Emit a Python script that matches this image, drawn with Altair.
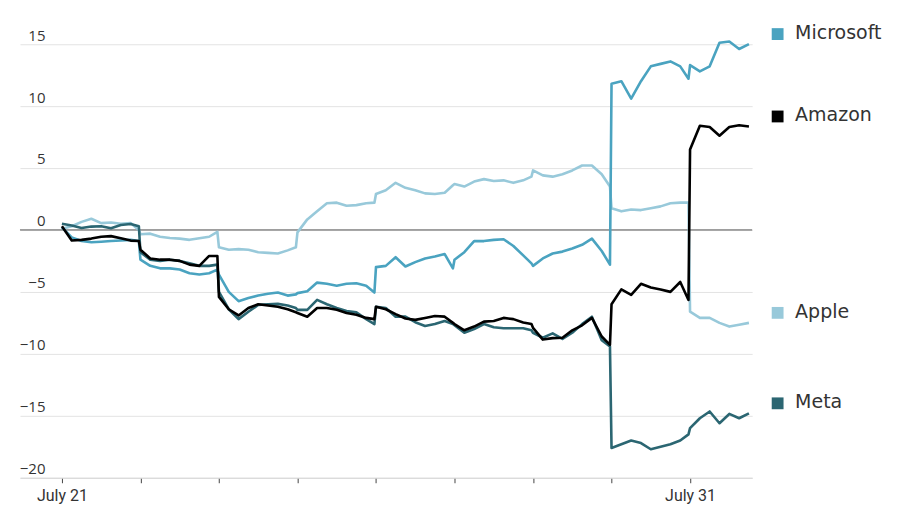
import altair as alt
import pandas as pd

companies = ["Microsoft", "Amazon", "Apple", "Meta"]
colors = ["#4aa3c0", "#000000", "#98c9da", "#2b6672"]
draw_order = ["Apple", "Microsoft", "Meta", "Amazon"]

# intraday sampling positions (trading-day units, 0 = July 21 open)
day_offsets = [0, 0.125, 0.25, 0.375, 0.5, 0.625, 0.75, 0.875, 0.98]
times = [d + o for d in range(8) for o in day_offsets] + [8 + o for o in day_offsets[:7]]

microsoft = [
    0.2, -0.6, -0.9, -1.0, -0.95, -0.9, -0.85, -0.8, -0.9,
    -2.4, -2.9, -3.1, -3.1, -3.2, -3.5, -3.6, -3.5, -3.2,
    -3.6, -5.0, -5.75, -5.5, -5.3, -5.15, -5.05, -5.3, -5.2,
    -5.1, -4.95, -4.25, -4.35, -4.5, -4.35, -4.3, -4.5, -5.05,
    -3.0, -2.9, -2.2, -2.95, -2.6, -2.3, -2.15, -1.95, -3.1,
    -2.4, -1.8, -0.9, -0.9, -0.8, -0.75, -1.3, -2.05, -2.7,
    -2.9, -2.3, -1.9, -1.75, -1.5, -1.2, -0.7, -1.7, -2.8,
    11.8, 12.0, 10.6, 12.0, 13.2, 13.4, 13.6, 13.2, 12.2,
    13.3, 12.8, 13.2, 15.1, 15.2, 14.6, 15.0,
]
amazon = [
    0.3, -0.85, -0.8, -0.7, -0.55, -0.5, -0.67, -0.86, -0.9,
    -1.6, -2.3, -2.4, -2.4, -2.5, -2.8, -2.9, -2.1, -2.1,
    -5.4, -6.4, -6.9, -6.3, -6.0, -6.1, -6.2, -6.4, -6.65,
    -6.7, -7.0, -6.3, -6.3, -6.45, -6.7, -6.85, -7.1, -7.2,
    -6.2, -6.4, -6.8, -7.15, -7.26, -7.1, -6.95, -7.0, -7.5,
    -7.6, -8.1, -7.8, -7.4, -7.35, -7.1, -7.2, -7.47, -7.6,
    -7.9, -8.85, -8.73, -8.7, -8.1, -7.7, -7.1, -8.6, -9.27,
    -6.0, -4.8, -5.25, -4.35, -4.65, -4.8, -5.0, -4.2, -5.65,
    6.5, 8.4, 8.3, 7.6, 8.3, 8.45, 8.35,
]
apple = [
    0.1, 0.3, 0.65, 0.9, 0.55, 0.6, 0.5, 0.55, 0.0,
    -0.35, -0.3, -0.55, -0.65, -0.7, -0.8, -0.67, -0.55, -0.15,
    -1.4, -1.6, -1.55, -1.6, -1.8, -1.85, -1.9, -1.65, -1.4,
    -0.2, 0.85, 1.5, 2.15, 2.2, 1.95, 2.0, 2.15, 2.2,
    2.9, 3.2, 3.8, 3.4, 3.2, 2.95, 2.9, 3.0, 3.6,
    3.7, 3.5, 3.9, 4.1, 3.95, 4.0, 3.8, 4.0, 4.3,
    4.8, 4.4, 4.3, 4.5, 4.8, 5.2, 5.2, 4.5, 3.5,
    1.75, 1.5, 1.65, 1.6, 1.75, 1.9, 2.15, 2.2, 2.2,
    -6.6, -7.1, -7.1, -7.5, -7.8, -7.65, -7.5,
]
meta = [
    0.5, 0.35, 0.15, 0.27, 0.3, 0.13, 0.4, 0.48, 0.3,
    -1.8, -2.4, -2.5, -2.4, -2.5, -2.7, -2.9, -2.9, -2.8,
    -5.0, -6.4, -7.2, -6.6, -6.05, -6.0, -5.97, -6.1, -6.3,
    -6.45, -6.45, -5.65, -6.0, -6.3, -6.55, -6.65, -7.2, -7.6,
    -6.2, -6.3, -7.0, -7.0, -7.45, -7.75, -7.6, -7.35, -7.6,
    -7.7, -8.3, -8.0, -7.6, -7.85, -7.93, -7.93, -7.93, -8.1,
    -8.3, -8.7, -8.35, -8.8, -8.3, -7.6, -7.0, -8.9, -9.4,
    -17.6, -17.3, -17.0, -17.2, -17.7, -17.5, -17.3, -17.0, -16.5,
    -16.0, -15.2, -14.65, -15.6, -14.85, -15.2, -14.8,
]

tick_days = [0, 1, 2, 3, 4, 5, 6, 7, 8]
tick_text = ["July 21", "", "", "", "", "", "", "", "July 31"]
y_ticks = [-20, -15, -10, -5, 0, 5, 10, 15]

series = {"Microsoft": microsoft, "Amazon": amazon, "Apple": apple, "Meta": meta}
rows = []
for name in companies:
    for t, v in zip(times, series[name]):
        rows.append({"company": name, "t": t, "v": v})
df = pd.DataFrame(rows)

legend_df = pd.DataFrame({"company": companies, "v": [series[c][-1] for c in companies]})

label_expr = ""
for d, s in zip(tick_days, tick_text):
    if s:
        label_expr += f"datum.value == {d} ? '{s}' : "
label_expr += "''"

x_enc = alt.X(
    "t:Q",
    scale=alt.Scale(domain=[-0.534, 8.791], nice=False, zero=False),
    axis=alt.Axis(
        values=tick_days, labelExpr=label_expr, title=None, grid=False,
        domainColor="#d6d6d6", domainWidth=1, tickColor="#444", tickSize=5,
        tickWidth=1, labelPadding=5, labelFlush=False,
        labelFont="Liberation Sans Narrow, Roboto, sans-serif",
        labelFontSize=16, labelColor="#333",
    ),
)
y_enc = alt.Y(
    "v:Q",
    scale=alt.Scale(domain=[-20, 17], nice=False, zero=False),
    axis=alt.Axis(
        values=y_ticks, title=None, domain=False, ticks=False, tickSize=0,
        labelPadding=-25, labelAlign="right", labelBaseline="alphabetic",
        labelOffset=-4, labelFlush=False, labelOverlap=False,
        grid=True, gridColor="#e3e3e3", gridWidth=1,
        labelFont="Open Sans", labelFontSize=15, labelColor="#333",
    ),
)

color_scale = alt.Scale(domain=companies, range=colors)

zero_rule = alt.Chart(pd.DataFrame({"v": [0]})).mark_rule(
    color="#555555", strokeWidth=1
).encode(y=y_enc)

layers = [zero_rule]
for name in draw_order:
    c = colors[companies.index(name)]
    layers.append(
        alt.Chart(df[df.company == name]).mark_line(
            color=c, strokeWidth=2.6, strokeJoin="round"
        ).encode(x=x_enc, y=y_enc, order="t:Q")
    )

squares = alt.Chart(legend_df).mark_square(size=140, opacity=1, yOffset=-10).encode(
    x=alt.value(758.5),
    y=y_enc,
    color=alt.Color("company:N", scale=color_scale, legend=None),
)
texts = alt.Chart(legend_df).mark_text(
    align="left", baseline="middle", dy=-11, fontSize=19,
    font="DejaVu Sans", color="#333333",
).encode(x=alt.value(776), y=y_enc, text="company:N")

layers += [squares, texts]

chart = alt.layer(*layers).properties(
    width=733,
    height=459,
    padding={"left": 12, "top": 11, "right": 140, "bottom": 31},
    autosize=alt.AutoSizeParams(type="none"),
    background="white",
).configure_view(stroke=None)

chart.save("out.html", embed_options={"renderer": "svg", "actions": False})
